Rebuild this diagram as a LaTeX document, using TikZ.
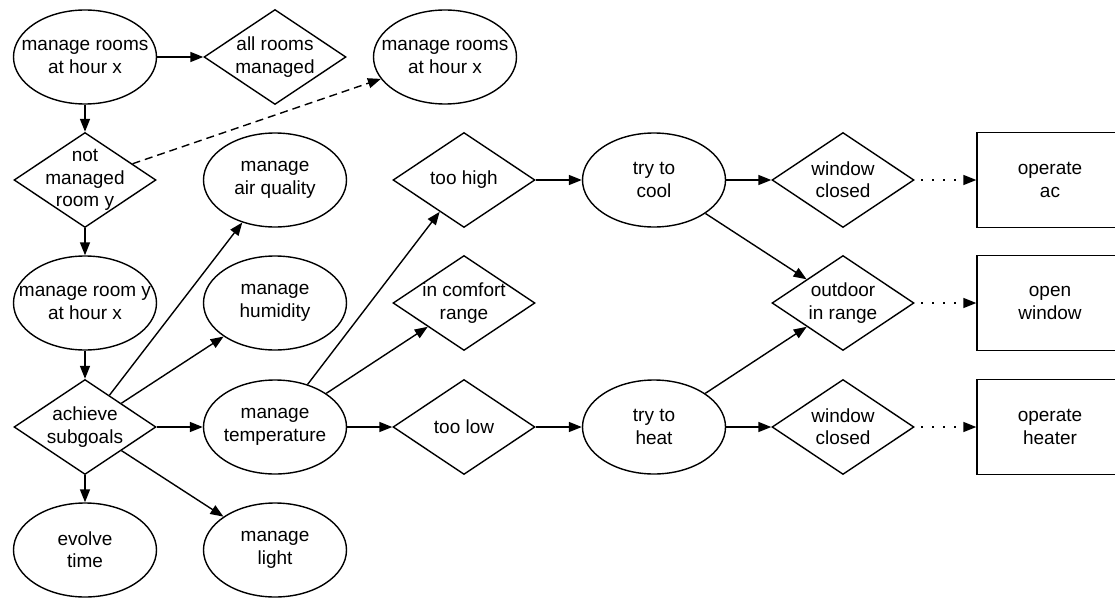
\documentclass[tikz,border=0pt]{standalone}
\usepackage{fontspec}
\setmainfont{Liberation Sans}
\usetikzlibrary{shapes.geometric,arrows.meta}

\begin{document}
\begin{tikzpicture}[x=1pt,y=-1pt,line width=1.4pt,>={Triangle[length=13pt,width=10pt]}]
\tikzstyle{every node}=[font=\fontsize{19}{22.3}\selectfont, align=center]
\tikzstyle{goal}=[ellipse,draw,minimum width=143pt,minimum height=94pt,inner xsep=-16pt,inner ysep=0pt]
\tikzstyle{cond}=[diamond,draw,minimum width=142pt,minimum height=95pt,inner sep=-20pt]
\tikzstyle{action}=[rectangle,draw,minimum width=146pt,minimum height=95pt]
\useasboundingbox (0,0) rectangle (1115,599);
\draw (85,57) node (rooms) [goal] {manage rooms\\at hour x};
\draw (275,57) node (allrooms) [cond] {all rooms\\managed};
\draw (445,57) node (roomsnext) [goal] {manage rooms\\at hour x};
\draw (85,180) node (notroom) [cond] {not\\managed\\room y};
\draw (275,180) node (air) [goal] {manage\\air quality};
\draw (85,303) node (room) [goal] {manage room y\\at hour x};
\draw (275,303) node (humid) [goal] {manage\\humidity};
\draw (85,427) node (subgoals) [cond] {achieve\\subgoals};
\draw (275,427) node (temp) [goal] {manage\\temperature};
\draw (85,550) node (evolve) [goal] {evolve\\time};
\draw (275,550) node (light) [goal] {manage\\light};
\draw (464,180) node (high) [cond] {too high};
\draw (464,303) node (comfort) [cond] {in comfort\\range};
\draw (464,427) node (low) [cond] {too low};
\draw (654,180) node (cool) [goal] {try to\\cool};
\draw (654,427) node (heat) [goal] {try to\\heat};
\draw (843,180) node (closedcool) [cond] {window\\closed};
\draw (843,303) node (outdoor) [cond] {outdoor\\in range};
\draw (843,427) node (closedheat) [cond] {window\\closed};
\draw (1050,180) node (ac) [action] {operate\\ac};
\draw (1050,303) node (window) [action] {open\\window};
\draw (1050,427) node (heater) [action] {operate\\heater};
% rooms loop
\draw[->] (rooms) -- (allrooms);
\draw[->] (rooms) -- (notroom);
\draw[->,dash pattern=on 8pt off 5pt] (notroom) -- (roomsnext);
\draw[->] (notroom) -- (room);
\draw[->] (room) -- (subgoals);
% subgoals
\draw[->] (subgoals) -- (air);
\draw[->] (subgoals) -- (humid);
\draw[->] (subgoals) -- (temp);
\draw[->] (subgoals) -- (evolve);
\draw[->] (subgoals) -- (light);
% temperature
\draw[->] (temp) -- (high);
\draw[->] (temp) -- (comfort);
\draw[->] (temp) -- (low);
\draw[->] (high) -- (cool);
\draw[->] (low) -- (heat);
\draw[->] (cool) -- (closedcool);
\draw[->] (cool) -- (outdoor);
\draw[->] (heat) -- (outdoor);
\draw[->] (heat) -- (closedheat);
\draw[->,dash pattern=on 2pt off 9pt,dash phase=4.5pt] (closedcool) -- (ac);
\draw[->,dash pattern=on 2pt off 9pt,dash phase=4.5pt] (outdoor) -- (window);
\draw[->,dash pattern=on 2pt off 9pt,dash phase=4.5pt] (closedheat) -- (heater);
\end{tikzpicture}
\end{document}
